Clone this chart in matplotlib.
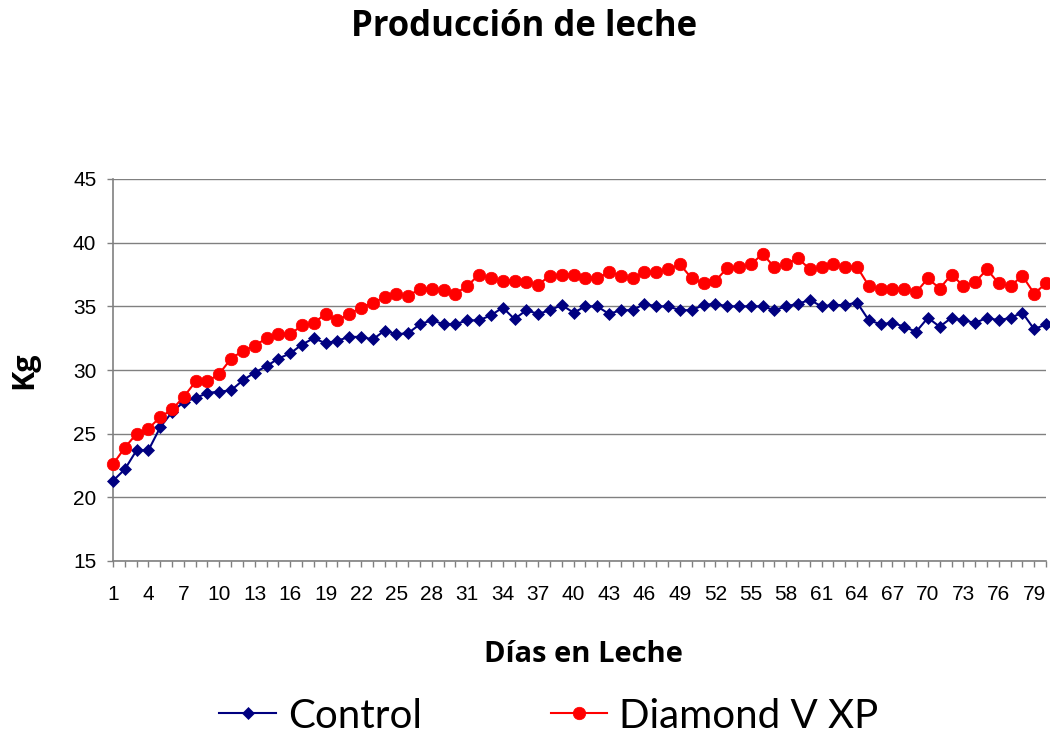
#!/usr/bin/env python3
# -*- coding: utf-8 -*-
###############################################################################
import matplotlib
matplotlib.use('Agg')
import matplotlib.pyplot as plt
from matplotlib.ticker import MultipleLocator

dias = list(range(1, 81))
control = [21.3, 22.2, 23.7, 23.7, 25.5, 26.7, 27.5, 27.8, 28.2, 28.3,
           28.4, 29.2, 29.8, 30.3, 30.9, 31.3, 32.0, 32.5, 32.1, 32.3,
           32.6, 32.6, 32.4, 33.1, 32.8, 32.9, 33.6, 33.9, 33.6, 33.6,
           33.9, 33.9, 34.3, 34.9, 34.0, 34.7, 34.4, 34.7, 35.1, 34.5,
           35.0, 35.0, 34.4, 34.7, 34.7, 35.2, 35.0, 35.0, 34.7, 34.7,
           35.1, 35.2, 35.0, 35.0, 35.0, 35.0, 34.7, 35.0, 35.2, 35.5,
           35.0, 35.1, 35.1, 35.3, 33.9, 33.6, 33.7, 33.4, 33.0, 34.1,
           33.4, 34.1, 33.9, 33.7, 34.1, 33.9, 34.1, 34.5, 33.2, 33.6]
diamond = [22.6, 23.9, 25.0, 25.4, 26.3, 26.9, 27.9, 29.1, 29.1, 29.7,
           30.9, 31.5, 31.9, 32.5, 32.8, 32.8, 33.5, 33.7, 34.4, 33.9,
           34.4, 34.9, 35.3, 35.7, 36.0, 35.8, 36.4, 36.4, 36.3, 36.0,
           36.6, 37.5, 37.2, 37.0, 37.0, 36.9, 36.7, 37.4, 37.5, 37.5,
           37.2, 37.2, 37.7, 37.4, 37.2, 37.7, 37.7, 37.9, 38.3, 37.2,
           36.8, 37.0, 38.0, 38.1, 38.3, 39.1, 38.1, 38.3, 38.8, 37.9,
           38.1, 38.3, 38.1, 38.1, 36.6, 36.4, 36.4, 36.4, 36.1, 37.2,
           36.4, 37.5, 36.6, 36.9, 37.9, 36.8, 36.6, 37.4, 36.0, 36.8]
etiquetas_x = dias[::3]
###############################################################################
plt.rcParams['font.family'] = ['Liberation Sans', 'DejaVu Sans']
fig = plt.figure(figsize=(10.5, 7.35), dpi=100)
ax = fig.add_axes([113 / 1050, 1 - 561 / 735, 933 / 1050, 382 / 735])

ax.plot(dias, control, color='#000080', lw=1.5, marker='D', ms=6,
        mec='#000080', mew=0.5, label='Control', clip_on=False, zorder=3)
ax.plot(dias, diamond, color='#ff0000', lw=1.5, marker='o', ms=9,
        mec='#ff0000', mew=0.5, label='Diamond V XP', clip_on=False, zorder=4)

ax.set_xlim(1, 80)
ax.set_ylim(15, 45)
ax.set_yticks(range(15, 50, 5))
ax.set_xticks(etiquetas_x)
ax.xaxis.set_minor_locator(MultipleLocator(1))
ax.tick_params(axis='both', which='both', direction='out', color='#808080',
               length=4, width=1, labelsize=15)
ax.tick_params(axis='x', pad=13)
ax.tick_params(axis='y', pad=8)
ax.grid(axis='y', color='#808080', lw=1)
ax.set_axisbelow(True)
for s in ['top', 'right']:
    ax.spines[s].set_visible(False)
for s in ['left', 'bottom']:
    ax.spines[s].set_color('#808080')
    ax.spines[s].set_linewidth(1.2)

fig.text(524 / 1050, 1 - 27 / 735, 'Producción de leche', ha='center', va='center',
         fontsize=25, fontweight='bold', family='Open Sans')
fig.text(24 / 1050, 1 - 370 / 735, 'Kg', rotation=90, ha='center', va='center',
         fontsize=22, fontweight='bold', family='Open Sans')
fig.text(583 / 1050, 1 - 655 / 735, 'Días en Leche', ha='center', va='center',
         fontsize=21, fontweight='bold', family='Open Sans')

fig.legend(loc='center', bbox_to_anchor=(549 / 1050, 1 - 716 / 735), ncol=2,
           frameon=False, prop={'family': 'Lato', 'size': 29},
           handlelength=1.4, handletextpad=0.3, columnspacing=3.2,
           borderaxespad=0, borderpad=0)

fig.savefig('out.png', dpi=100)
